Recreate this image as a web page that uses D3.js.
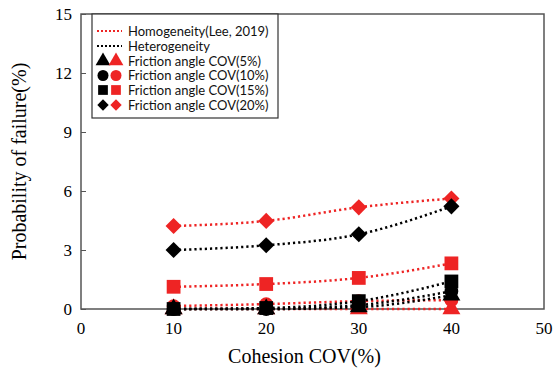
<!DOCTYPE html>
<html>
<head>
<meta charset="utf-8">
<script src="https://cdn.jsdelivr.net/npm/d3@7"></script>
<style>
body { margin: 0; background: #fff; }
</style>
</head>
<body>
<script>
var width = 554, height = 372;

// cohesion COV (%)
var cohesion = [10, 20, 30, 40];
var xTicks = [0, 10, 20, 30, 40, 50];
var yTicks = [0, 3, 6, 9, 12, 15];

// probability of failure (%), homogeneity (Lee, 2019) - red
var homo5 = [0, 0, 0, 0];
var homo10 = [0.15, 0.25, 0.4, 0.45];
var homo15 = [1.13, 1.27, 1.58, 2.32];
var homo20 = [4.22, 4.48, 5.17, 5.62];

// heterogeneity - black
var hetero5 = [0, 0, 0.1, 0.7];
var hetero10 = [0, 0, 0.2, 0.9];
var hetero15 = [0, 0.05, 0.4, 1.4];
var hetero20 = [3.0, 3.24, 3.8, 5.22];

var legendLabels = ["Homogeneity(Lee, 2019)", "Heterogeneity",
  "Friction angle COV(5%)", "Friction angle COV(10%)",
  "Friction angle COV(15%)", "Friction angle COV(20%)"];

var red = "#ee2424", black = "#000";

var margin = {left: 81, right: 10, top: 14, bottom: 63};

var svg = d3.select("body").append("svg")
  .attr("width", width).attr("height", height);

var x = d3.scaleLinear().domain([0, 50]).range([margin.left, width - margin.right]);
var y = d3.scaleLinear().domain([0, 15]).range([height - margin.bottom, margin.top]);

// frame
svg.append("rect")
  .attr("x", x(0)).attr("y", y(15))
  .attr("width", x(50) - x(0)).attr("height", y(0) - y(15))
  .attr("fill", "none").attr("stroke", "#555").attr("stroke-width", 1.5);

var yAxis = svg.append("g").attr("transform", "translate(" + x(0) + ",0)")
  .call(d3.axisRight(y).tickValues(yTicks).tickSize(5).tickFormat(""));
yAxis.select(".domain").remove();
yAxis.selectAll("line").attr("stroke", "#555");

yTicks.forEach(function(t) {
  svg.append("text").attr("x", x(0) - 9).attr("y", y(t) + 6)
    .attr("text-anchor", "end")
    .style("font-family", "'Liberation Serif', 'Times New Roman', serif")
    .style("font-size", "17px").text(t);
});
xTicks.forEach(function(t) {
  svg.append("text").attr("x", x(t)).attr("y", y(0) + 25)
    .attr("text-anchor", "middle")
    .style("font-family", "'Liberation Serif', 'Times New Roman', serif")
    .style("font-size", "17px").text(t);
});

svg.append("text")
  .attr("x", (x(0) + x(50)) / 2 - 8).attr("y", 363)
  .attr("text-anchor", "middle")
  .style("font-family", "'Liberation Serif', 'Times New Roman', serif")
  .style("font-size", "20px").text("Cohesion COV(%)");

svg.append("text")
  .attr("transform", "translate(26," + ((y(0) + y(15)) / 2) + ") rotate(-90)")
  .attr("text-anchor", "middle")
  .style("font-family", "'Liberation Serif', 'Times New Roman', serif")
  .style("font-size", "20px").text("Probability of failure(%)");

// diamond = square turned 45 degrees
var diamond = {
  draw: function(context, size) {
    var r = Math.sqrt(size / 2);
    context.moveTo(0, -r);
    context.lineTo(r, 0);
    context.lineTo(0, r);
    context.lineTo(-r, 0);
    context.closePath();
  }
};

var series = [
  {v: homo5, c: red, s: d3.symbolTriangle},
  {v: homo10, c: red, s: d3.symbolCircle},
  {v: homo15, c: red, s: d3.symbolSquare},
  {v: homo20, c: red, s: diamond},
  {v: hetero5, c: black, s: d3.symbolTriangle},
  {v: hetero10, c: black, s: d3.symbolCircle},
  {v: hetero15, c: black, s: d3.symbolSquare},
  {v: hetero20, c: black, s: diamond}
];

function sizeOf(s) {
  if (s === d3.symbolTriangle) return 140;
  if (s === d3.symbolCircle) return 150;
  if (s === d3.symbolSquare) return 190;
  return 130;
}

var line = d3.line()
  .x(function(d, i) { return x(cohesion[i]); })
  .y(function(d) { return y(d); })
  .curve(d3.curveMonotoneX);

series.forEach(function(sr) {
  svg.append("path").datum(sr.v)
    .attr("d", line)
    .attr("fill", "none").attr("stroke", sr.c)
    .attr("stroke-width", 2.5)
    .attr("stroke-dasharray", "2.2,3");
});

series.forEach(function(sr) {
  svg.selectAll(null).data(sr.v).enter().append("path")
    .attr("transform", function(d, i) {
      return "translate(" + x(cohesion[i]) + "," + y(d) + ")";
    })
    .attr("d", d3.symbol().type(sr.s).size(sizeOf(sr.s)))
    .attr("fill", sr.c);
});

// legend
var lg = svg.append("g");
lg.append("rect").attr("x", 92).attr("y", 14).attr("width", 186).attr("height", 104)
  .attr("fill", "#fff").attr("stroke", "#333").attr("stroke-width", 1.2);

var rowY = [31, 46, 61, 75.5, 90, 105];
legendLabels.forEach(function(t, i) {
  lg.append("text").attr("x", 128).attr("y", rowY[i] + 4.5)
    .style("font-family", "Lato, 'Noto Sans', sans-serif")
    .style("font-size", "13px").style("fill", "#111").text(t);
});
[red, black].forEach(function(c, i) {
  lg.append("line").attr("x1", 97).attr("x2", 122)
    .attr("y1", rowY[i]).attr("y2", rowY[i])
    .attr("stroke", c).attr("stroke-width", 2.2)
    .attr("stroke-dasharray", "2,2");
});
var legSyms = [d3.symbolTriangle, d3.symbolCircle, d3.symbolSquare, diamond];
legSyms.forEach(function(s, i) {
  [black, red].forEach(function(c, j) {
    lg.append("path")
      .attr("transform", "translate(" + (103 + j * 13) + "," + rowY[i + 2] + ")")
      .attr("d", d3.symbol().type(s).size(s === diamond ? 65 : 95))
      .attr("fill", c);
  });
});
</script>
</body>
</html>
